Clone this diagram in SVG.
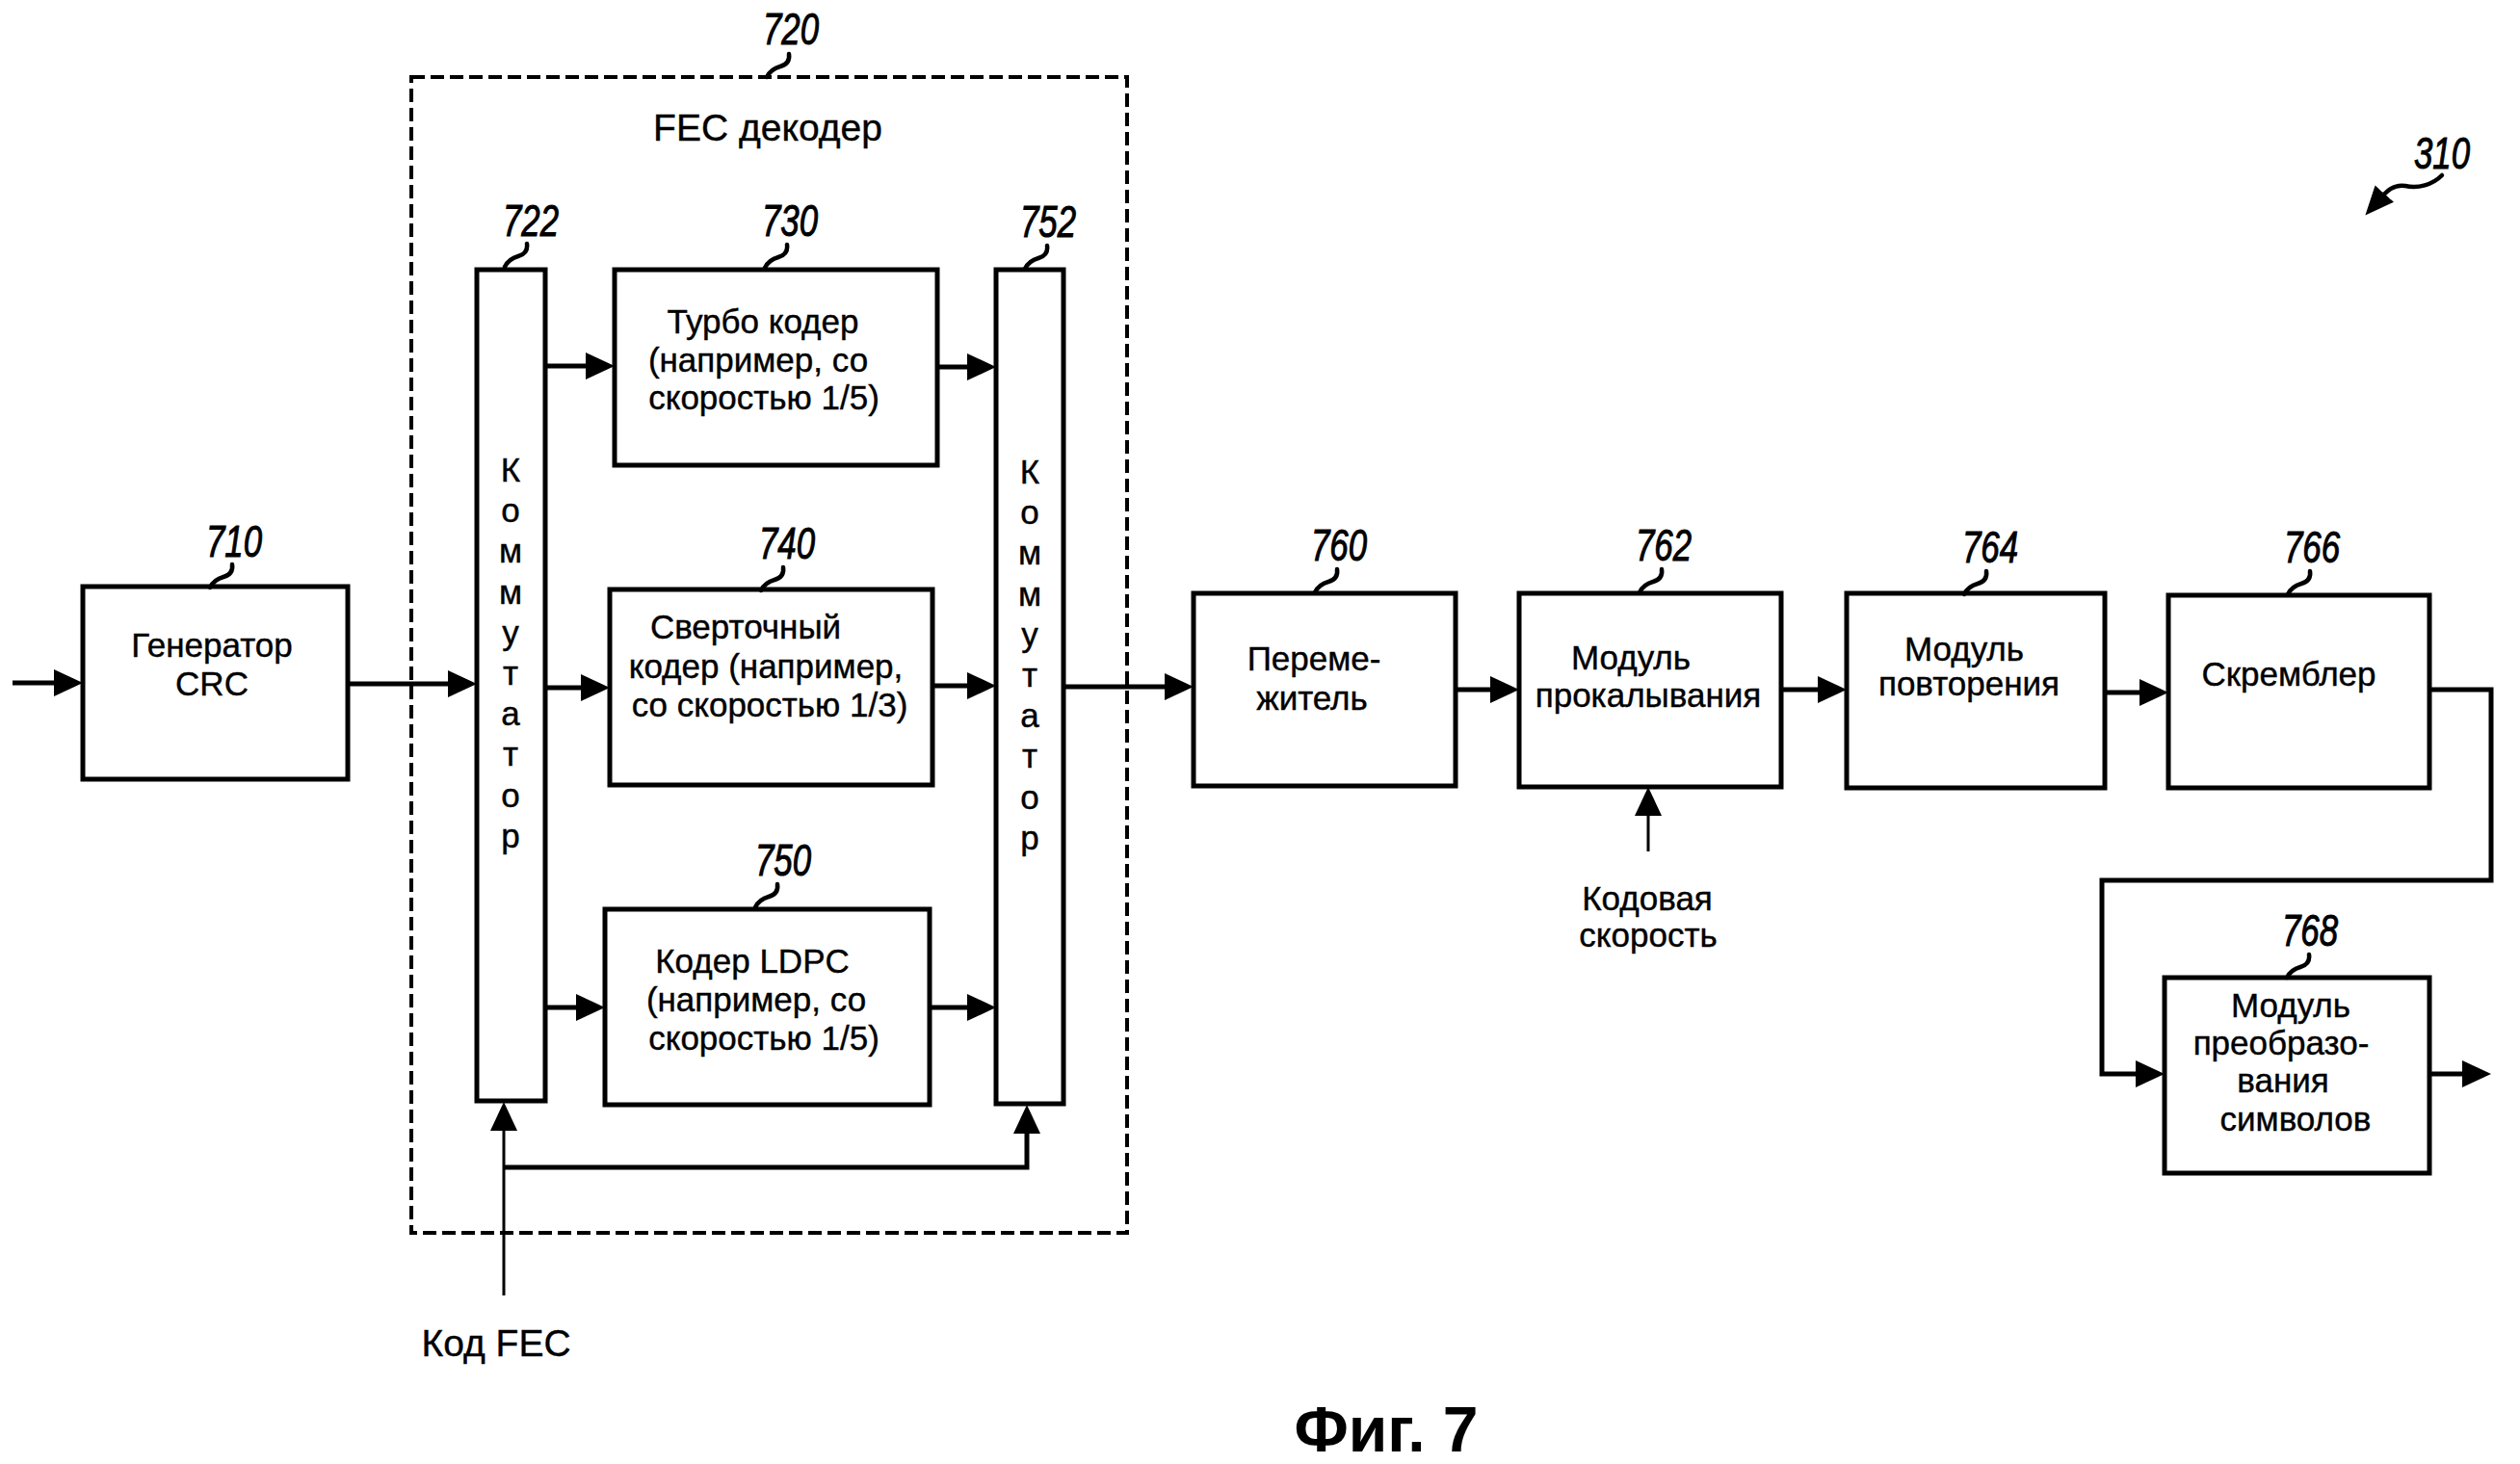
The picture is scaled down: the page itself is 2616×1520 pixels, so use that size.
<svg xmlns="http://www.w3.org/2000/svg" xmlns:xlink="http://www.w3.org/1999/xlink" width="2616" height="1520" viewBox="0 0 2616 1520">
<style>
  .box{fill:#fff;stroke:#000;stroke-width:5}
  .dash{fill:none;stroke:#000;stroke-width:4;stroke-dasharray:14 6}
  .t{font-family:"Liberation Sans",Arial,sans-serif;font-size:35px;fill:#000;text-anchor:middle;stroke:#000;stroke-width:0.4}
  .big{font-size:39px}
  .num{font-family:"Liberation Sans Narrow","Liberation Sans",Arial,sans-serif;font-size:46px;font-style:italic;fill:#000;text-anchor:middle;stroke:#000;stroke-width:1}
  .sq{fill:none;stroke:#000;stroke-width:4.5;stroke-linecap:round}
  .c{fill:none;stroke:#000;stroke-width:5}
  .thin{stroke-width:3}
  .fig{font-family:"Liberation Sans",Arial,sans-serif;font-size:66px;font-weight:bold;fill:#000;text-anchor:middle}
</style>
<defs>
  <marker id="ah" markerUnits="userSpaceOnUse" markerWidth="30" markerHeight="28" refX="20" refY="14" orient="auto">
    <path d="M0,0 L30,14 L0,28 Z" fill="#000"/>
  </marker>
  <marker id="ah2" markerUnits="userSpaceOnUse" markerWidth="30" markerHeight="26" refX="8" refY="13" orient="auto">
    <path d="M0,0 L30,13 L0,26 Z" fill="#000"/>
  </marker>
  <path id="sq" d="M0,0 C1,7 -2,11 -9,13 C-16,15 -20,18 -23,24"/>
</defs>
<rect width="2616" height="1520" fill="#fff"/>

<g id="n720">
  <rect class="dash" x="427" y="80" width="743" height="1200"/>
  <text class="t big" x="797" y="146">FEC декодер</text>
  <text class="num" x="821" y="46" textLength="58" lengthAdjust="spacingAndGlyphs">720</text>
  <use class="sq" href="#sq" x="819" y="56"/>
</g>

<g id="n710">
  <rect class="box" x="86" y="609" width="275" height="200"/>
  <text class="t" x="220" y="682">Генератор</text>
  <text class="t" x="220" y="722">CRC</text>
  <text class="num" x="243" y="578" textLength="58" lengthAdjust="spacingAndGlyphs">710</text>
  <use class="sq" href="#sq" x="241" y="586"/>
</g>

<g id="n722">
  <rect class="box" x="495" y="280" width="71" height="863"/>
  <g class="t">
    <text x="530" y="500">К</text><text x="530" y="542">о</text><text x="530" y="584">м</text><text x="530" y="627">м</text><text x="530" y="669">у</text><text x="530" y="711">т</text><text x="530" y="753">а</text><text x="530" y="795">т</text><text x="530" y="838">о</text><text x="530" y="880">р</text>
  </g>
  <text class="num" x="551" y="245" textLength="58" lengthAdjust="spacingAndGlyphs">722</text>
  <use class="sq" href="#sq" x="547" y="253"/>
</g>

<g id="n730">
  <rect class="box" x="638" y="280" width="335" height="203"/>
  <text class="t" x="792" y="346">Турбо кодер</text>
  <text class="t" x="787" y="386">(например, со</text>
  <text class="t" x="793" y="425">скоростью 1/5)</text>
  <text class="num" x="820" y="245" textLength="58" lengthAdjust="spacingAndGlyphs">730</text>
  <use class="sq" href="#sq" x="817" y="254"/>
</g>

<g id="n740">
  <rect class="box" x="633" y="612" width="335" height="203"/>
  <text class="t" x="774" y="663">Сверточный</text>
  <text class="t" x="795" y="704">кодер (например,</text>
  <text class="t" x="799" y="744">со скоростью 1/3)</text>
  <text class="num" x="817" y="580" textLength="58" lengthAdjust="spacingAndGlyphs">740</text>
  <use class="sq" href="#sq" x="813" y="589"/>
</g>

<g id="n750">
  <rect class="box" x="628" y="944" width="337" height="203"/>
  <text class="t" x="781" y="1010">Кодер LDPC</text>
  <text class="t" x="785" y="1050">(например, со</text>
  <text class="t" x="793" y="1090">скоростью 1/5)</text>
  <text class="num" x="813" y="909" textLength="58" lengthAdjust="spacingAndGlyphs">750</text>
  <use class="sq" href="#sq" x="807" y="918"/>
</g>

<g id="n752">
  <rect class="box" x="1034" y="280" width="70" height="866"/>
  <g class="t">
    <text x="1069" y="502">К</text><text x="1069" y="544">о</text><text x="1069" y="586">м</text><text x="1069" y="629">м</text><text x="1069" y="671">у</text><text x="1069" y="713">т</text><text x="1069" y="755">а</text><text x="1069" y="797">т</text><text x="1069" y="840">о</text><text x="1069" y="882">р</text>
  </g>
  <text class="num" x="1088" y="246" textLength="58" lengthAdjust="spacingAndGlyphs">752</text>
  <use class="sq" href="#sq" x="1087" y="255"/>
</g>

<g id="n760">
  <rect class="box" x="1239" y="616" width="272" height="200"/>
  <text class="t" x="1364" y="696">Переме-</text>
  <text class="t" x="1362" y="737">житель</text>
  <text class="num" x="1390" y="582" textLength="58" lengthAdjust="spacingAndGlyphs">760</text>
  <use class="sq" href="#sq" x="1388" y="591"/>
</g>

<g id="n762">
  <rect class="box" x="1577" y="616" width="272" height="201"/>
  <text class="t" x="1693" y="695">Модуль</text>
  <text class="t" x="1711" y="734">прокалывания</text>
  <text class="num" x="1727" y="582" textLength="58" lengthAdjust="spacingAndGlyphs">762</text>
  <use class="sq" href="#sq" x="1725" y="591"/>
</g>

<g id="n764">
  <rect class="box" x="1917" y="616" width="268" height="202"/>
  <text class="t" x="2039" y="686">Модуль</text>
  <text class="t" x="2044" y="722">повторения</text>
  <text class="num" x="2066" y="584" textLength="58" lengthAdjust="spacingAndGlyphs">764</text>
  <use class="sq" href="#sq" x="2062" y="593"/>
</g>

<g id="n766">
  <rect class="box" x="2251" y="618" width="271" height="200"/>
  <text class="t" x="2376" y="712">Скремблер</text>
  <text class="num" x="2400" y="584" textLength="58" lengthAdjust="spacingAndGlyphs">766</text>
  <use class="sq" href="#sq" x="2398" y="593"/>
</g>

<g id="n768">
  <rect class="box" x="2247" y="1015" width="275" height="203"/>
  <text class="t" x="2378" y="1056">Модуль</text>
  <text class="t" x="2368" y="1095">преобразо-</text>
  <text class="t" x="2370" y="1134">вания</text>
  <text class="t" x="2383" y="1174">символов</text>
  <text class="num" x="2398" y="982" textLength="58" lengthAdjust="spacingAndGlyphs">768</text>
  <use class="sq" href="#sq" x="2397" y="991"/>
</g>

<g id="labels">
  <text class="t big" x="515" y="1408">Код FEC</text>
  <text class="t" x="1710" y="945">Кодовая</text>
  <text class="t" x="1711" y="983">скорость</text>
  <text class="num" x="2535" y="175" textLength="58" lengthAdjust="spacingAndGlyphs">310</text>
  <path class="sq" d="M2535,182 C2525,192 2510,196 2497,193 C2485,191 2478,198 2470,207" marker-end="url(#ah2)"/>
  <text class="fig" x="1439" y="1507">Фиг. 7</text>
</g>

<g id="connectors">
  <path class="c" d="M13,709 H76" marker-end="url(#ah)"/>
  <path class="c" d="M361,710 H485" marker-end="url(#ah)"/>
  <path class="c" d="M566,380 H628" marker-end="url(#ah)"/>
  <path class="c" d="M973,381 H1024" marker-end="url(#ah)"/>
  <path class="c" d="M566,714 H623" marker-end="url(#ah)"/>
  <path class="c" d="M968,712 H1024" marker-end="url(#ah)"/>
  <path class="c" d="M566,1046 H618" marker-end="url(#ah)"/>
  <path class="c" d="M965,1046 H1024" marker-end="url(#ah)"/>
  <path class="c" d="M1104,713 H1229" marker-end="url(#ah)"/>
  <path class="c" d="M1511,716 H1567" marker-end="url(#ah)"/>
  <path class="c" d="M1849,716 H1907" marker-end="url(#ah)"/>
  <path class="c" d="M2185,719 H2241" marker-end="url(#ah)"/>
  <path class="c" d="M2522,716 H2586 V914 H2182 V1115 H2237" marker-end="url(#ah)"/>
  <path class="c" d="M2522,1115 H2576" marker-end="url(#ah)"/>
  <path class="c thin" d="M1711,884 V827" marker-end="url(#ah)"/>
  <path class="c thin" d="M523,1345 V1154" marker-end="url(#ah)"/>
  <path class="c" d="M523,1212 H1066 V1157" marker-end="url(#ah)"/>
</g>
</svg>
